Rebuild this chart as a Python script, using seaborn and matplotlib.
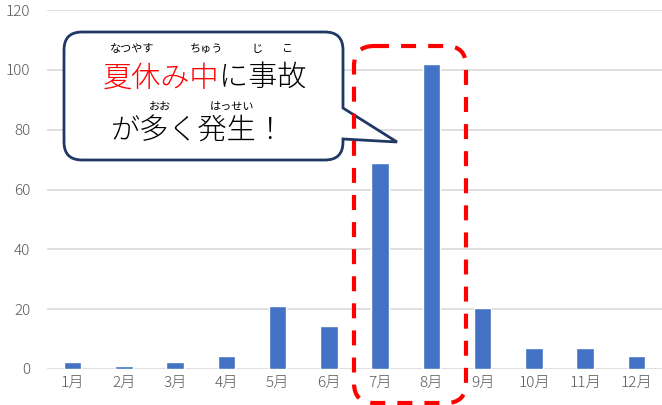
import matplotlib
matplotlib.use('Agg')
import matplotlib.pyplot as plt
from matplotlib.path import Path
from matplotlib.patches import PathPatch
import pandas as pd
import seaborn as sns

MONTHS = ['1月', '2月', '3月', '4月', '5月', '6月', '7月', '8月', '9月', '10月', '11月', '12月']
ACCIDENTS = [2.3, 1, 2.3, 4.3, 21, 14.3, 69, 102, 20.3, 7, 7, 4.3]
Y_TICKS = [0, 20, 40, 60, 80, 100, 120]

W, H = 662, 405

sns.set_theme(style='white')
plt.rcParams['font.family'] = ['Noto Sans CJK JP', 'DejaVu Sans']


def px(x, y):
    # pixel coords from top-left -> inches for dpi_scale_trans
    return (x / 100, (H - y) / 100)


def rounded_path(left, top, right, bottom, r, tail=None):
    verts = [px(left + r, top), px(right - r, top), px(right, top), px(right, top + r)]
    codes = [Path.MOVETO, Path.LINETO, Path.CURVE3, Path.CURVE3]
    if tail is not None:
        (y1, tip, y2) = tail
        verts += [px(right, y1), px(*tip), px(right, y2)]
        codes += [Path.LINETO] * 3
    verts += [px(right, bottom - r), px(right, bottom), px(right - r, bottom),
              px(left + r, bottom), px(left, bottom), px(left, bottom - r),
              px(left, top + r), px(left, top), px(left + r, top), px(left + r, top)]
    codes += [Path.LINETO, Path.CURVE3, Path.CURVE3,
              Path.LINETO, Path.CURVE3, Path.CURVE3,
              Path.LINETO, Path.CURVE3, Path.CURVE3, Path.CLOSEPOLY]
    return Path(verts, codes)


df = pd.DataFrame({'month': MONTHS, 'count': ACCIDENTS})

fig = plt.figure(figsize=(W / 100, H / 100), dpi=100)
ax = fig.add_axes([47 / W, 1 - 369 / H, 1 - 47 / W, (369 - 10) / H])
sns.barplot(data=df, x='month', y='count', color='#4472C4', saturation=1, width=0.34, ax=ax, zorder=3)

ax.set_ylim(0, 120)
ax.set_xlim(-0.5, 11.5)
ax.set_yticks(Y_TICKS)
ax.yaxis.grid(True, color='#D9D9D9', linewidth=1.2)
ax.set_axisbelow(True)
for s in ax.spines.values():
    s.set_visible(False)
ax.tick_params(axis='both', length=0, colors='#595959', labelsize=11)
ax.tick_params(axis='y', pad=12)
ax.tick_params(axis='x', pad=5)
for lab in ax.get_xticklabels() + ax.get_yticklabels():
    lab.set_fontweight('light')
ax.set_xlabel('')
ax.set_ylabel('')

# speech bubble
bubble = rounded_path(64, 32, 343, 160, 18, tail=(108, (397, 142), 139))
fig.add_artist(PathPatch(bubble, transform=fig.dpi_scale_trans, facecolor='white',
                         edgecolor='#1F3864', linewidth=2, zorder=5))

# red dashed frame around July/August
frame = rounded_path(354, 46, 466, 403, 20)
fig.add_artist(PathPatch(frame, transform=fig.dpi_scale_trans, facecolor='none',
                         edgecolor='#FF0000', linewidth=3, linestyle=(0, (3.6, 2.9)), zorder=5))

def ftext(x, y, s, **kw):
    fig.text(x / W, 1 - y / H, s, va='center', zorder=6, **kw)

ftext(219, 78, '夏休み中', ha='right', fontsize=21, color='#FF0000', fontweight='light')
ftext(219, 78, 'に事故', ha='left', fontsize=21, color='black', fontweight='light')
ftext(198, 131, 'が多く発生！', ha='center', fontsize=21, color='black', fontweight='light')

ftext(132, 49, 'なつやす', ha='center', fontsize=8, color='black')
ftext(206, 49, 'ちゅう', ha='center', fontsize=8, color='black')
ftext(257, 49, 'じ', ha='center', fontsize=8, color='black')
ftext(287, 49, 'こ', ha='center', fontsize=8, color='black')
ftext(160, 107, 'おお', ha='center', fontsize=8, color='black')
ftext(232, 107, 'はっせい', ha='center', fontsize=8, color='black')

fig.savefig('out.png', dpi=100)
